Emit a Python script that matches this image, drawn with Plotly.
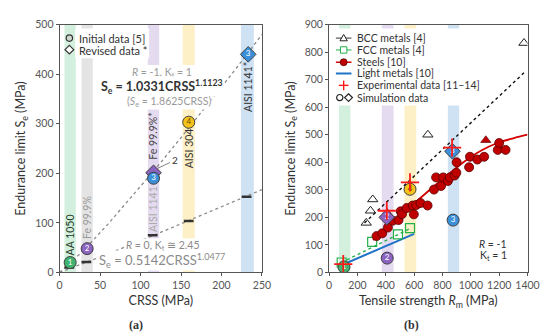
import plotly.graph_objects as go

W, H = 550, 336
FONT = "Lato"

# ---------------- data: panel (a) ----------------
crss_initial = [13, 34, 116, 159.5]
se_initial = [20, 48, 190, 303]
labels_initial = ["1", "2", "3", "4"]
crss_revised = [116, 233]
se_revised = [201, 440]
labels_revised = ["", "3"]   # revised point 2 is labelled outside with a leader line
crss_r0 = [12, 33, 115, 159.5, 231]
se_r0 = [10, 21, 75, 104, 152.5]
fit_up_x = [0, 30, 60, 90, 120, 150, 180, 215, 250]
fit_up_y = [0, 45, 98, 154, 212, 272, 333, 405, 480]
fit_lo_x = [0, 60, 120, 180, 250]
fit_lo_y = [0, 37.5, 77.5, 118.6, 167]
bands_a = [(6, 20), (27, 41), (109, 123), (152, 167), (224, 240)]
band_names_a = ["AA 1050", "Fe 99.9%", "AISI 1141", "Fe 99.9%*", "AISI 304", "AISI 1141*"]

# ---------------- data: panel (b) ----------------
bcc_rm = [262, 292, 308, 697, 1375]
bcc_se = [180, 224, 265, 500, 833]
bcc_fit_rm = [250, 1375]
bcc_fit_se = [180, 725]
fcc_rm = [89, 304, 486, 571]
fcc_se = [36, 111, 138, 161]
fcc_fit_rm = [88, 578]
fcc_fit_se = [36, 161]
light_fit_rm = [95, 600]
light_fit_se = [28, 140]
steel_rm = [335, 375, 415, 450, 490, 505, 515, 548, 590, 598, 615, 645, 695, 740, 755,
            790, 805, 838, 852, 886, 898, 900, 988, 994, 1046, 1094, 1190, 1200, 1245]
steel_se = [132, 142, 163, 188, 190, 222, 212, 234, 243, 211, 245, 252, 243, 301, 345,
            314, 345, 332, 345, 352, 362, 400, 382, 420, 410, 420, 445, 470, 445]
steel_fit_rm = [310, 450, 548, 650, 740, 845, 960, 1074, 1188, 1300, 1400]
steel_fit_se = [118, 180, 228, 273, 313, 358, 405, 443, 470, 487, 500]
tri_fill_rm = [410, 1106]
tri_fill_se = [216, 480]
exp_rm = [100, 407, 571, 868]
exp_se = [30, 224, 327, 453]
sim_c_rm = [105, 410, 875, 571]
sim_c_se = [20, 52, 190, 302]
sim_c_lab = ["1", "2", "3", "4"]
sim_d_rm = [407, 870]
sim_d_se = [200, 440]
sim_d_lab = ["2", "3"]
bands_b = [(70, 150), (372, 455), (532, 615), (838, 918)]

GREEN, PURPLE, BLUE, YELLOW = "#3fb36f", "#8b63c0", "#3a8fd8", "#f5c21b"
BAND_COL = ["#d3efdd", "#e4e4e4", "#e5dbf0", "#fdf0c6", "#cfe2f4"]
BAND_COL_B = ["#d3efdd", "#e5dbf0", "#fdf0c6", "#cfe2f4"]
RED = "#c00000"
CROSS = "#ff1a1a"

def px(x):
    return x / W

def py(y):
    return 1 - y / H

fig = go.Figure()

# ---------- panel (a) traces ----------
fig.add_trace(go.Scatter(x=fit_up_x, y=fit_up_y, mode="lines",
                         line=dict(color="#8a8a8a", width=1.3, dash="dot"),
                         xaxis="x", yaxis="y", showlegend=False))
fig.add_trace(go.Scatter(x=fit_lo_x, y=fit_lo_y, mode="lines",
                         line=dict(color="#8a8a8a", width=1.3, dash="dot"),
                         xaxis="x", yaxis="y", showlegend=False))
fig.add_trace(go.Scatter(x=crss_r0, y=se_r0, mode="markers",
                         marker=dict(symbol="line-ew", size=7,
                                     line=dict(color="#333", width=2.5)),
                         xaxis="x", yaxis="y", showlegend=False))
fig.add_trace(go.Scatter(x=crss_revised, y=se_revised, mode="markers+text",
                         text=labels_revised, textposition="middle center",
                         textfont=dict(color="white", size=8, family=FONT),
                         marker=dict(symbol="diamond", size=12, color=[PURPLE, BLUE],
                                     line=dict(color="#404040", width=1)),
                         xaxis="x", yaxis="y", showlegend=False))
fig.add_trace(go.Scatter(x=crss_initial, y=se_initial, mode="markers+text",
                         text=labels_initial, textposition="middle center",
                         textfont=dict(color=["white", "white", "white", "#6b4e00"], size=8, family=FONT),
                         marker=dict(symbol="circle", size=12, color=[GREEN, PURPLE, BLUE, YELLOW],
                                     line=dict(color="#404040", width=1)),
                         xaxis="x", yaxis="y", showlegend=False))

# ---------- panel (b) traces ----------
fig.add_trace(go.Scatter(x=bcc_fit_rm, y=bcc_fit_se, mode="lines",
                         line=dict(color="#111", width=1.4, dash="dot"),
                         xaxis="x2", yaxis="y2", showlegend=False))
fig.add_trace(go.Scatter(x=fcc_fit_rm, y=fcc_fit_se, mode="lines",
                         line=dict(color="#22b04a", width=1.4, dash="dot"),
                         xaxis="x2", yaxis="y2", showlegend=False))
fig.add_trace(go.Scatter(x=light_fit_rm, y=light_fit_se, mode="lines",
                         line=dict(color="#1f72c8", width=2),
                         xaxis="x2", yaxis="y2", showlegend=False))
fig.add_trace(go.Scatter(x=bcc_rm, y=bcc_se, mode="markers",
                         marker=dict(symbol="triangle-up-open", size=9, color="#222",
                                     line=dict(width=1)),
                         xaxis="x2", yaxis="y2", showlegend=False))
fig.add_trace(go.Scatter(x=fcc_rm, y=fcc_se, mode="markers",
                         marker=dict(symbol="square-open", size=9, color="#22b04a",
                                     line=dict(width=1.2)),
                         xaxis="x2", yaxis="y2", showlegend=False))
fig.add_trace(go.Scatter(x=steel_fit_rm, y=steel_fit_se, mode="lines",
                         line=dict(color="#d40000", width=1.8, shape="spline"),
                         xaxis="x2", yaxis="y2", showlegend=False))
fig.add_trace(go.Scatter(x=steel_rm, y=steel_se, mode="markers",
                         marker=dict(symbol="circle", size=9, color=RED,
                                     line=dict(color="#5a0000", width=0.8)),
                         xaxis="x2", yaxis="y2", showlegend=False))
fig.add_trace(go.Scatter(x=tri_fill_rm, y=tri_fill_se, mode="markers",
                         marker=dict(symbol="triangle-up", size=9, color=RED,
                                     line=dict(color="#5a0000", width=0.6)),
                         xaxis="x2", yaxis="y2", showlegend=False))
fig.add_trace(go.Scatter(x=sim_d_rm, y=sim_d_se, mode="markers+text",
                         text=sim_d_lab, textposition="middle center",
                         textfont=dict(color="white", size=8, family=FONT),
                         marker=dict(symbol="diamond", size=12, color=[PURPLE, BLUE],
                                     line=dict(color="#404040", width=1)),
                         xaxis="x2", yaxis="y2", showlegend=False))
fig.add_trace(go.Scatter(x=sim_c_rm, y=sim_c_se, mode="markers+text",
                         text=sim_c_lab, textposition="middle center",
                         textfont=dict(color=["white", "white", "white", "#6b4e00"], size=8, family=FONT),
                         marker=dict(symbol="circle", size=12, color=[GREEN, PURPLE, BLUE, YELLOW],
                                     line=dict(color="#404040", width=1)),
                         xaxis="x2", yaxis="y2", showlegend=False))
fig.add_trace(go.Scatter(x=exp_rm, y=exp_se, mode="markers",
                         marker=dict(symbol="cross-thin-open", size=13, color=CROSS,
                                     line=dict(color=CROSS, width=1.8)),
                         xaxis="x2", yaxis="y2", showlegend=False))

# ---------- shapes: bands ----------
shapes = []
for (a, b), c in zip(bands_a, BAND_COL):
    shapes.append(dict(type="rect", xref="x", yref="y domain", x0=a, x1=b, y0=0, y1=1,
                       fillcolor=c, line=dict(width=0), layer="below"))
for (a, b), c in zip(bands_b, BAND_COL_B):
    shapes.append(dict(type="rect", xref="x2", yref="y2 domain", x0=a, x1=b, y0=0, y1=1,
                       fillcolor=c, line=dict(width=0), layer="below"))

def rect_px(x0, y0, x1, y1, fill, layer="below", line=None):
    return dict(type="rect", xref="paper", yref="paper", x0=px(x0), x1=px(x1),
                y0=py(y1), y1=py(y0), fillcolor=fill,
                line=line if line else dict(width=0), layer=layer)

# white boxes that hide the bands behind legends and equation texts
shapes.append(rect_px(66, 15, 142, 46, "white"))
shapes.append(rect_px(328, 15, 486, 95, "white"))
shapes.append(rect_px(124, 53, 212, 97, "white"))
shapes.append(rect_px(100, 233, 212, 263, "white"))

# ---------- legend glyphs ----------
def circle_px(cx, cy, r, fill, lc, lw=1):
    return dict(type="circle", xref="paper", yref="paper", x0=px(cx - r), x1=px(cx + r),
                y0=py(cy + r), y1=py(cy - r), fillcolor=fill,
                line=dict(color=lc, width=lw), layer="above")

def path_px(pts, fill, lc, lw=1, close=True):
    d = "M " + " L ".join(f"{px(x):.5f},{py(y):.5f}" for x, y in pts)
    if close:
        d += " Z"
    return dict(type="path", xref="paper", yref="paper", path=d, fillcolor=fill,
                line=dict(color=lc, width=lw), layer="above")

def line_px(x0, y0, x1, y1, color, w=1, dash="solid"):
    return dict(type="line", xref="paper", yref="paper", x0=px(x0), x1=px(x1),
                y0=py(y0), y1=py(y1), line=dict(color=color, width=w, dash=dash), layer="above")

# left legend
shapes.append(circle_px(60, 25, 3.3, "#cfd8cf", "#333", 1.2))
shapes.append(path_px([(60, 32.5), (64.5, 37), (60, 41.5), (55.5, 37)], "white", "#333", 1.2))

# right legend
rows = [25, 37.3, 50, 61.7, 74, 86.7]
lx0, lx1, lcx = 334, 350, 342
shapes.append(line_px(lx0, rows[0], lx1, rows[0], "#333", 1))
shapes.append(path_px([(lcx, rows[0] - 3.8), (lcx + 3.8, rows[0] + 2.8), (lcx - 3.8, rows[0] + 2.8)], "white", "#222", 1))
shapes.append(line_px(lx0, rows[1], lx1, rows[1], "#22b04a", 1))
shapes.append(rect_px(lcx - 3.3, rows[1] - 3.3, lcx + 3.3, rows[1] + 3.3, "white", "above",
                      dict(color="#22b04a", width=1)))
shapes.append(line_px(lx0, rows[2], lx1, rows[2], "#d40000", 1.5))
shapes.append(circle_px(lcx, rows[2], 3.6, RED, "#5a0000", 0.8))
shapes.append(line_px(lx0, rows[3], lx1, rows[3], "#1f72c8", 2))
shapes.append(line_px(lcx - 5, rows[4], lcx + 5, rows[4], CROSS, 1.4))
shapes.append(line_px(lcx, rows[4] - 5, lcx, rows[4] + 5, CROSS, 1.4))
shapes.append(circle_px(338, rows[5], 3.2, "white", "#222", 1.2))
shapes.append(path_px([(347, rows[5] - 4), (351, rows[5]), (347, rows[5] + 4), (343, rows[5])], "white", "#222", 1.2))

# ---------- annotations ----------
ann = []
TXT = "#333"

def ptext(x, y, text, size=11, color=TXT, xanchor="left", yanchor="middle", family=FONT, **kw):
    ann.append(dict(xref="paper", yref="paper", x=px(x), y=py(y), text=text, showarrow=False,
                    xanchor=xanchor, yanchor=yanchor, font=dict(size=size, color=color, family=family), **kw))

ptext(68, 25, "Initial data [5]", 11)
ptext(68, 37.5, "Revised data *", 11)
leg_texts = ["BCC metals [4]", "FCC metals [4]", "Steels [10]", "Light metals [10]",
             "Experimental data [11–14]", "Simulation data"]
for r, t in zip(rows, leg_texts):
    ptext(354, r, t, 10.5)

# band labels panel (a)
band_lab = [(13, 75, band_names_a[0], "#1e3a28"), (34, 110, band_names_a[1], "#9a9a9a"),
            (116, 127, band_names_a[2], "#ababab"), (116, 275, band_names_a[3], "#444"),
            (159.5, 250, band_names_a[4], "#333"), (232, 375, band_names_a[5], "#333")]
for x, y, t, c in band_lab:
    ann.append(dict(xref="x", yref="y", x=x, y=y, text=t, textangle=-90, showarrow=False,
                    font=dict(size=10.5, color=c, family=FONT)))

# equation texts (white background hides the dotted fits behind them)
GR = "#9a9a9a"
WB = dict(bgcolor="white", borderpad=0)
ptext(155, 61.5, "<i>R</i> = -1, K<sub>t</sub> = 1", 10.5, GR, xanchor="center", **WB)
ptext(155, 75, "<b>S<sub>e</sub> = 1.0331CRSS<sup>1.1123</sup></b>", 12.5, TXT, xanchor="center", **WB)
ptext(162, 91, "(<i>S</i><sub>e</sub> = 1.8625CRSS)", 10.5, GR, xanchor="center", **WB)
ptext(156, 241, "<i>R</i> = 0, K<sub>t</sub> ≅ 2.45", 10.5, "#8a8a8a", xanchor="center", **WB)
ptext(155, 256, "S<sub>e</sub> = 0.5142CRSS<sup>1.0477</sup>", 13, "#8a8a8a", xanchor="center", **WB)

ann.append(dict(xref="x", yref="y", x=121, y=210, ax=17, ay=-8, text="2", showarrow=True,
                arrowhead=0, arrowwidth=0.8, arrowcolor="#666",
                font=dict(size=10, color=TXT, family=FONT)))

# panel (b) R/Kt text
ptext(512, 239, "<i>R</i> = -1", 10.5, xanchor="right")
ptext(512, 251, "K<sub>t</sub> = 1", 10.5, xanchor="right")

# panel labels
ptext(128, 323, "<b>(a)</b>", 12, xanchor="center", family="Liberation Serif")
ptext(412, 323, "<b>(b)</b>", 12, xanchor="center", family="Liberation Serif")

YD = [py(268), py(11)]
axis_common = dict(showgrid=False, zeroline=False, showline=True, linecolor="#555",
                   linewidth=1, mirror=True, ticks="outside", ticklen=3, tickcolor="#555",
                   tickfont=dict(size=10.5, color="#555", family=FONT))
title_font = dict(size=12.5, color=TXT, family=FONT)

fig.update_layout(
    width=W, height=H, margin=dict(l=0, r=0, t=0, b=0),
    paper_bgcolor="white", plot_bgcolor="white", showlegend=False,
    font=dict(family=FONT, color=TXT),
    xaxis=dict(domain=[px(50), px(258)], range=[0, 250], tickvals=[0, 50, 100, 150, 200, 250],
               title=dict(text="CRSS (MPa)", font=title_font, standoff=6), anchor="y", **axis_common),
    yaxis=dict(domain=YD, range=[0, 500], tickvals=[0, 100, 200, 300, 400, 500],
               title=dict(text="Endurance limit S<sub>e</sub> (MPa)", font=title_font, standoff=6),
               anchor="x", **axis_common),
    xaxis2=dict(domain=[px(327), px(531)], range=[0, 1400],
                tickvals=[0, 200, 400, 600, 800, 1000, 1200, 1400],
                title=dict(text="Tensile strength <i>R</i><sub>m</sub> (MPa)", font=title_font, standoff=6),
                anchor="y2", **axis_common),
    yaxis2=dict(domain=YD, range=[0, 900], tickvals=[0, 100, 200, 300, 400, 500, 600, 700, 800, 900],
                title=dict(text="Endurance limit S<sub>e</sub> (MPa)", font=title_font, standoff=6),
                anchor="x2", **axis_common),
    shapes=shapes, annotations=ann,
)

fig.write_html("out.html")
